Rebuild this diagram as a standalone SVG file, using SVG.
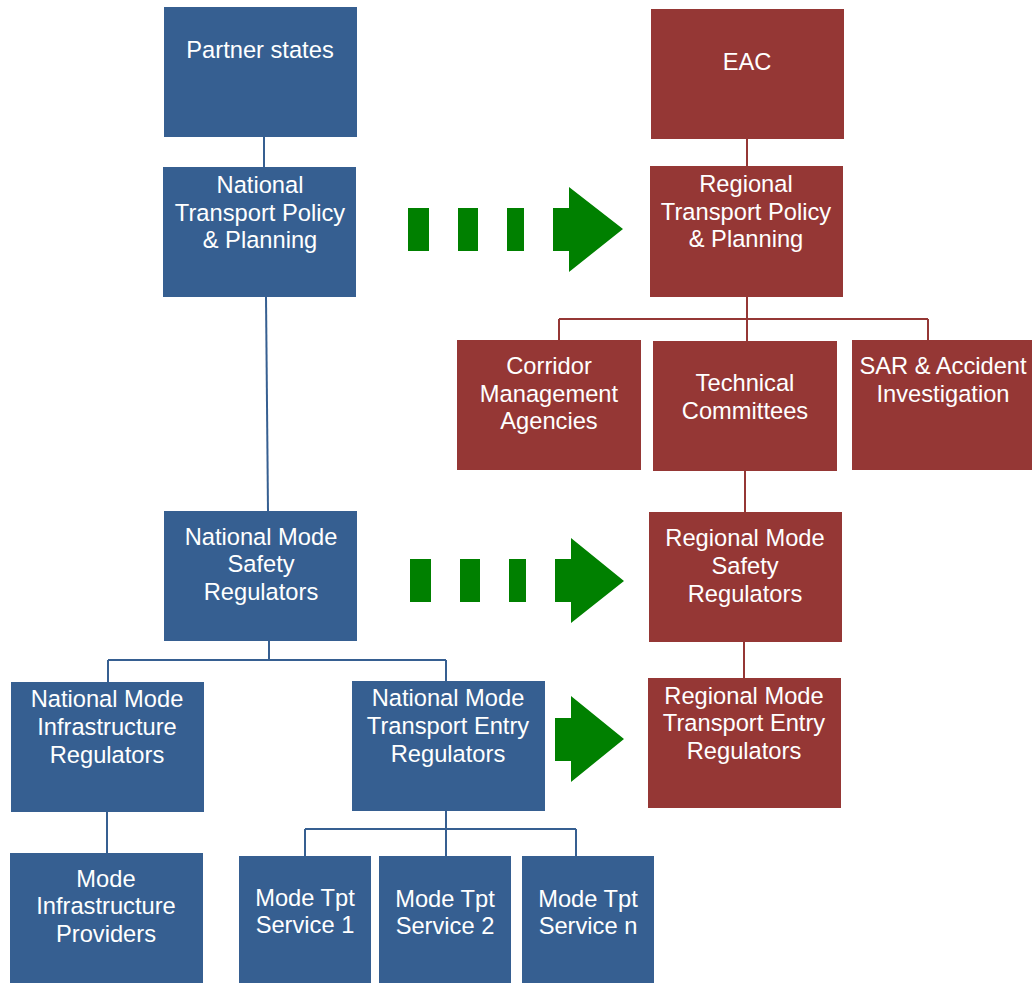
<svg xmlns="http://www.w3.org/2000/svg" width="1032" height="983" viewBox="0 0 1032 983">
<style>
.b{fill:#365F91}
.r{fill:#953735}
.t{fill:#ffffff;font-family:"Liberation Sans",Arial,sans-serif;font-size:23.7px;text-anchor:middle}
.lb{stroke:#365F91;stroke-width:2;fill:none}
.lr{stroke:#953735;stroke-width:2;fill:none}
.g{fill:#008000}
</style>
<rect width="1032" height="983" fill="#ffffff"/>
<g id="connectors">
<path class="lb" d="M264 137V167"/>
<path class="lb" d="M266 297L268 511"/>
<path class="lb" d="M269 641V660M108 660H446M108 660V682M446 660V681"/>
<path class="lb" d="M107 812V853"/>
<path class="lb" d="M446 811V829M305 829H576M305 829V856M446 829V856M576 829V856"/>
<path class="lr" d="M747 139V166"/>
<path class="lr" d="M747 297V319M559 319H928M559 319V340M747 319V341M928 319V340"/>
<path class="lr" d="M745 471V512"/>
<path class="lr" d="M744 642V678"/>
</g>
<g id="arrow1">
<rect class="g" x="408" y="208" width="21" height="43"/>
<rect class="g" x="458" y="208" width="20" height="43"/>
<rect class="g" x="507" y="208" width="17" height="43"/>
<polygon class="g" points="553,208 569,208 569,187 623,229 569,272 569,251 553,251"/>
</g>
<g id="arrow2">
<rect class="g" x="410" y="559" width="21" height="43"/>
<rect class="g" x="460" y="559" width="20" height="43"/>
<rect class="g" x="509" y="559" width="17" height="43"/>
<polygon class="g" points="555,559 571,559 571,538 624,581 571,623 571,602 555,602"/>
</g>
<g id="arrow3">
<polygon class="g" points="555,718 571,718 571,696 624,739 571,782 571,761 555,761"/>
</g>
<g id="partner-states"><rect class="b" x="164" y="7" width="193" height="130"/><text class="t" x="260" y="58">Partner states</text></g>
<g id="national-transport-policy"><rect class="b" x="163" y="167" width="193" height="130"/><text class="t" x="260"><tspan x="260" y="193">National</tspan><tspan x="260" y="221">Transport Policy</tspan><tspan x="260" y="248">&amp; Planning</tspan></text></g>
<g id="eac"><rect class="r" x="651" y="9" width="193" height="130"/><text class="t" x="747" y="70">EAC</text></g>
<g id="regional-transport-policy"><rect class="r" x="650" y="166" width="193" height="131"/><text class="t"><tspan x="746" y="192">Regional</tspan><tspan x="746" y="220">Transport Policy</tspan><tspan x="746" y="247">&amp; Planning</tspan></text></g>
<g id="corridor"><rect class="r" x="457" y="340" width="184" height="130"/><text class="t"><tspan x="549" y="374">Corridor</tspan><tspan x="549" y="402">Management</tspan><tspan x="549" y="429">Agencies</tspan></text></g>
<g id="technical"><rect class="r" x="653" y="341" width="184" height="130"/><text class="t"><tspan x="745" y="391">Technical</tspan><tspan x="745" y="419">Committees</tspan></text></g>
<g id="sar"><rect class="r" x="852" y="340" width="180" height="130"/><text class="t"><tspan x="943" y="374">SAR &amp; Accident</tspan><tspan x="943" y="402">Investigation</tspan></text></g>
<g id="national-mode-safety"><rect class="b" x="164" y="511" width="193" height="130"/><text class="t"><tspan x="261" y="545">National Mode</tspan><tspan x="261" y="572">Safety</tspan><tspan x="261" y="600">Regulators</tspan></text></g>
<g id="regional-mode-safety"><rect class="r" x="649" y="512" width="193" height="130"/><text class="t"><tspan x="745" y="546">Regional Mode</tspan><tspan x="745" y="574">Safety</tspan><tspan x="745" y="602">Regulators</tspan></text></g>
<g id="national-mode-infra"><rect class="b" x="11" y="682" width="193" height="130"/><text class="t"><tspan x="107" y="707">National Mode</tspan><tspan x="107" y="735">Infrastructure</tspan><tspan x="107" y="763">Regulators</tspan></text></g>
<g id="national-mode-entry"><rect class="b" x="352" y="681" width="193" height="130"/><text class="t"><tspan x="448" y="706">National Mode</tspan><tspan x="448" y="734">Transport Entry</tspan><tspan x="448" y="762">Regulators</tspan></text></g>
<g id="regional-mode-entry"><rect class="r" x="648" y="678" width="193" height="130"/><text class="t"><tspan x="744" y="704">Regional Mode</tspan><tspan x="744" y="731">Transport Entry</tspan><tspan x="744" y="759">Regulators</tspan></text></g>
<g id="mode-infra-providers"><rect class="b" x="10" y="853" width="193" height="130"/><text class="t"><tspan x="106" y="887">Mode</tspan><tspan x="106" y="914">Infrastructure</tspan><tspan x="106" y="942">Providers</tspan></text></g>
<g id="service-1"><rect class="b" x="239" y="856" width="132" height="127"/><text class="t"><tspan x="305" y="906">Mode Tpt</tspan><tspan x="305" y="933">Service 1</tspan></text></g>
<g id="service-2"><rect class="b" x="379" y="856" width="132" height="127"/><text class="t"><tspan x="445" y="907">Mode Tpt</tspan><tspan x="445" y="934">Service 2</tspan></text></g>
<g id="service-n"><rect class="b" x="522" y="856" width="132" height="127"/><text class="t"><tspan x="588" y="907">Mode Tpt</tspan><tspan x="588" y="934">Service n</tspan></text></g>
</svg>
